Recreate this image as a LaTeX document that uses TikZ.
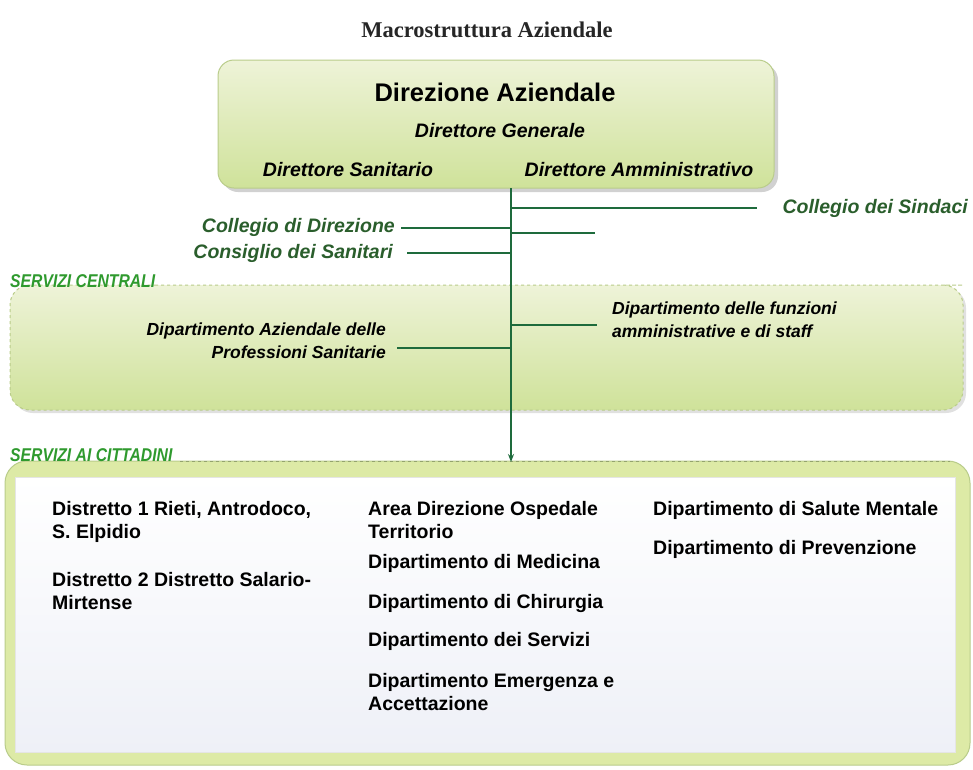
\documentclass[tikz,border=0pt]{standalone}
\usepackage{fontspec}
\newfontfamily\arb{Liberation Sans}
\newfontfamily\nar{Liberation Sans}[FakeStretch=0.85]
\newfontfamily\ttl{Liberation Serif}
\usetikzlibrary{arrows.meta}
\definecolor{lgreen}{HTML}{1E6B3C}
\definecolor{tgreen}{HTML}{2A5E2C}
\definecolor{sgreen}{HTML}{2F9A2E}
\definecolor{boxtop}{HTML}{EEF3D8}
\definecolor{boxbot}{HTML}{CFE29A}
\definecolor{boxedge}{HTML}{B9CC8A}
\definecolor{outerfill}{HTML}{DDEAA6}
\definecolor{innerfill}{HTML}{EEF0F7}
\tikzset{
  x=1pt,y=-1pt,
  panel/.style={rounded corners=16pt, top color=boxtop, bottom color=boxbot, draw=boxedge, line width=1pt},
  link/.style={draw=lgreen, line width=1.4pt},
  head/.style={font=\arb\bfseries\fontsize{25.5}{28}\selectfont, inner sep=0pt},
  role/.style={font=\arb\bfseries\itshape\fontsize{19.5}{22}\selectfont, inner sep=0pt},
  organ/.style={font=\arb\bfseries\itshape\fontsize{19.5}{22}\selectfont, text=tgreen, inner sep=0pt},
  dept/.style={font=\arb\bfseries\itshape\fontsize{17.5}{23}\selectfont, inner sep=0pt},
  item/.style={font=\arb\bfseries\fontsize{19.5}{23.5}\selectfont, inner sep=0pt, anchor=north west, align=left},
  sect/.style={font=\nar\bfseries\itshape\fontsize{18.5}{20}\selectfont, text=sgreen, inner sep=0pt, anchor=base west},
}
\begin{document}
\begin{tikzpicture}
\useasboundingbox (0,0) rectangle (973,769);
\fill[white] (0,0) rectangle (973,769);
% title
\node[font=\ttl\bfseries\fontsize{22.5}{24}\selectfont, text=black!85] (title) at (487,30) {Macrostruttura Aziendale};
% top box
\fill[black!18, rounded corners=16pt] (222,64) rectangle (778,192);
\path[panel] (218,60) rectangle (774,188);
\node[head] (dir) at (495,92) {Direzione Aziendale};
\node[role] (dg) at (500,131) {Direttore Generale};
\node[role] (ds) at (348,170) {Direttore Sanitario};
\node[role] (da) at (639,170) {Direttore Amministrativo};
\coordinate (stemtop) at (511,188);
% middle box
\fill[black!12, rounded corners=20pt] (13,288) rectangle (966,413);
\path[rounded corners=20pt, top color=boxtop, bottom color=boxbot] (10,285) rectangle (963,410);
\draw[boxedge, dashed, line width=1pt, rounded corners=20pt] (155,285) -- (943,285) -- (963,285) -- (963,410) -- (10,410) -- (10,285) -- (155,285);
\node[sect] (sc) at (10,287) {SERVIZI CENTRALI};
% bottom box
\path[rounded corners=22pt, fill=outerfill, draw=boxedge, line width=1pt] (5,461) rectangle (970,765);
\draw[boxedge!80!black, dashed, line width=1pt] (180,461) -- (950,461);
\path[top color=white, bottom color=innerfill, draw=black!10] (15,477) rectangle (955,752);
\node[sect] (sac) at (10,461) {SERVIZI AI CITTADINI};
% stem
\coordinate (stembot) at (511,462);
\draw[link, -{Stealth[length=8pt,width=6pt]}] (stemtop) -- (stembot);
% organs
\node[organ, anchor=east] (cs) at (968,208) {Collegio dei Sindaci};
\node[organ, anchor=east] (cd) at (395,227) {Collegio di Direzione};
\node[organ, anchor=east] (cons) at (393,253) {Consiglio dei Sanitari};
\draw[link] (511,208) -- (757,208);
\draw[link] (cd.east) ++(6,1) -- (511,228);
\draw[link] (511,233) -- (595,233);
\draw[link] (cons.east) ++(14,0) -- (511,253);
% departments
\node[dept, anchor=north west, align=left] (dfa) at (612,302) {Dipartimento delle funzioni\\amministrative e di staff};
\node[dept, anchor=north east, align=right] (dap) at (386,323) {Dipartimento Aziendale delle\\Professioni Sanitarie};
\draw[link] (511,325) -- (597,325);
\draw[link] (397,348) -- (511,348);
% citizens services
\node[item] (d1) at (52,501) {Distretto 1 Rieti, Antrodoco,\\S. Elpidio};
\node[item] (d2) at (52,572) {Distretto 2 Distretto Salario-\\Mirtense};
\node[item] (ado) at (368,501) {Area Direzione Ospedale\\Territorio};
\node[item] (med) at (368,554) {Dipartimento di Medicina};
\node[item] (chi) at (368,594) {Dipartimento di Chirurgia};
\node[item] (ser) at (368,632) {Dipartimento dei Servizi};
\node[item] (eme) at (368,673) {Dipartimento Emergenza e\\Accettazione};
\node[item] (sm) at (653,501) {Dipartimento di Salute Mentale};
\node[item] (prev) at (653,540) {Dipartimento di Prevenzione};
\end{tikzpicture}
\end{document}
